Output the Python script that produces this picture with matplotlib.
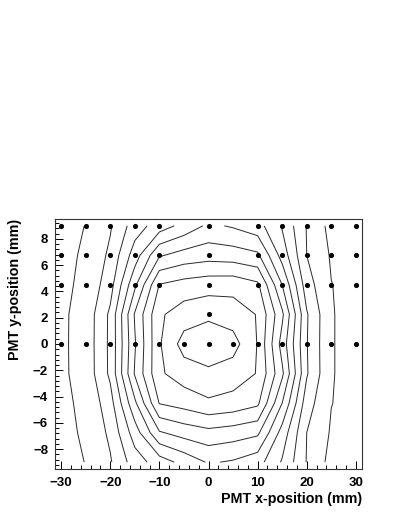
import numpy as np
import matplotlib
matplotlib.use("Agg")
import matplotlib.pyplot as plt
from matplotlib.ticker import MultipleLocator

# ---- data -------------------------------------------------------------
# interpolation grid of the scan (mm)
grid_x = [-30, -25, -20, -15, -10, -5, 0, 5, 10, 15, 20, 25, 30]
grid_y = [-9.0, -6.75, -4.5, -2.25, 0.0, 2.25, 4.5, 6.75, 9.0]

# response (arbitrary units) on the grid, one list per y row
z_ym9 = [0.70, 1.02, 1.90, 3.50, 4.50, 5.33, 6.10, 5.89, 5.40, 3.90, 1.95, 0.67, 0.50]
z_ym675 = [0.80, 1.10, 2.20, 4.50, 6.90, 7.40, 7.70, 7.50, 7.20, 4.60, 2.00, 0.90, 0.60]
z_ym45 = [0.85, 1.15, 2.60, 5.80, 9.05, 9.40, 9.85, 9.65, 9.20, 6.00, 2.45, 1.02, 0.70]
z_ym225 = [0.84, 1.35, 3.20, 7.10, 9.85, 10.50, 10.70, 10.50, 9.95, 7.20, 3.10, 1.05, 0.70]
z_y0 = [0.84, 1.37, 3.22, 6.90, 9.90, 11.40, 12.00, 11.40, 9.95, 6.60, 3.05, 1.05, 0.70]
z_y225 = [0.84, 1.35, 3.20, 7.10, 9.85, 10.50, 10.70, 10.50, 9.95, 7.20, 3.10, 1.05, 0.70]
z_y45 = [0.85, 1.15, 2.60, 5.80, 9.05, 9.40, 9.60, 9.65, 9.20, 6.00, 2.45, 1.02, 0.70]
z_y675 = [0.80, 1.10, 2.20, 4.50, 6.90, 7.40, 7.60, 7.50, 7.20, 4.60, 2.00, 0.90, 0.60]
z_y9 = [0.70, 1.02, 1.90, 3.50, 4.50, 5.33, 6.20, 5.89, 5.40, 3.90, 1.95, 0.67, 0.50]

contour_levels = [1, 2, 3, 4, 5, 6, 7, 8, 9, 10, 11]

# measured PMT positions (markers)
meas_x = [-30, -25, -20, -15, -10, 0, 10, 15, 20, 25, 30,
          -30, -25, -20, -15, -10, 0, 10, 15, 20, 25, 30,
          -30, -25, -20, -15, -10, 0, 10, 15, 20, 25, 30,
          0,
          -30, -25, -20, -15, -10, -5, 0, 5, 10, 15, 20, 25, 30]
meas_y = [9.0] * 11 + [6.75] * 11 + [4.5] * 11 + [2.25] + [0.0] * 13

x_ticks = [-30, -20, -10, 0, 10, 20, 30]
y_ticks = [-8, -6, -4, -2, 0, 2, 4, 6, 8]

Z = np.array([z_ym9, z_ym675, z_ym45, z_ym225, z_y0, z_y225, z_y45, z_y675, z_y9])

# ---- figure ------------------------------------------------------------
plt.rcParams['font.family'] = ['Liberation Sans', 'DejaVu Sans']
fig = plt.figure(figsize=(3.99, 5.16), dpi=100)
ax = fig.add_axes([55/399, 47/516, 307/399, 250/516])

ax.contour(grid_x, grid_y, Z, levels=contour_levels, colors='#2a2a2a',
           linewidths=0.7)
ax.plot(meas_x, meas_y, 'o', color='black', ms=3.7, mew=0)

ax.set_xlim(-31.25, 31.25)
ax.set_ylim(-9.52, 9.52)
ax.set_xticks(x_ticks)
ax.set_yticks(y_ticks)
ax.xaxis.set_minor_locator(MultipleLocator(2))
ax.yaxis.set_minor_locator(MultipleLocator(0.4))
ax.tick_params(which='both', direction='in', top=False, right=False,
               labelsize=9.5, width=0.7, color='black')
ax.tick_params(which='major', length=5.8)
ax.tick_params(which='minor', length=3)
ax.tick_params(axis='x', pad=6)
ax.tick_params(axis='y', pad=5)
for lab in ax.get_xticklabels() + ax.get_yticklabels():
    lab.set_fontweight('bold')
for sp in ax.spines.values():
    sp.set_linewidth(0.8)
    sp.set_color('#333333')

ax.set_xlabel('PMT x-position (mm)', fontsize=10.3, fontweight='bold',
              loc='right', labelpad=2)
ax.set_ylabel('PMT y-position (mm)', fontsize=10.3, fontweight='bold',
              loc='top', labelpad=8)

fig.savefig('out.png', dpi=100)
